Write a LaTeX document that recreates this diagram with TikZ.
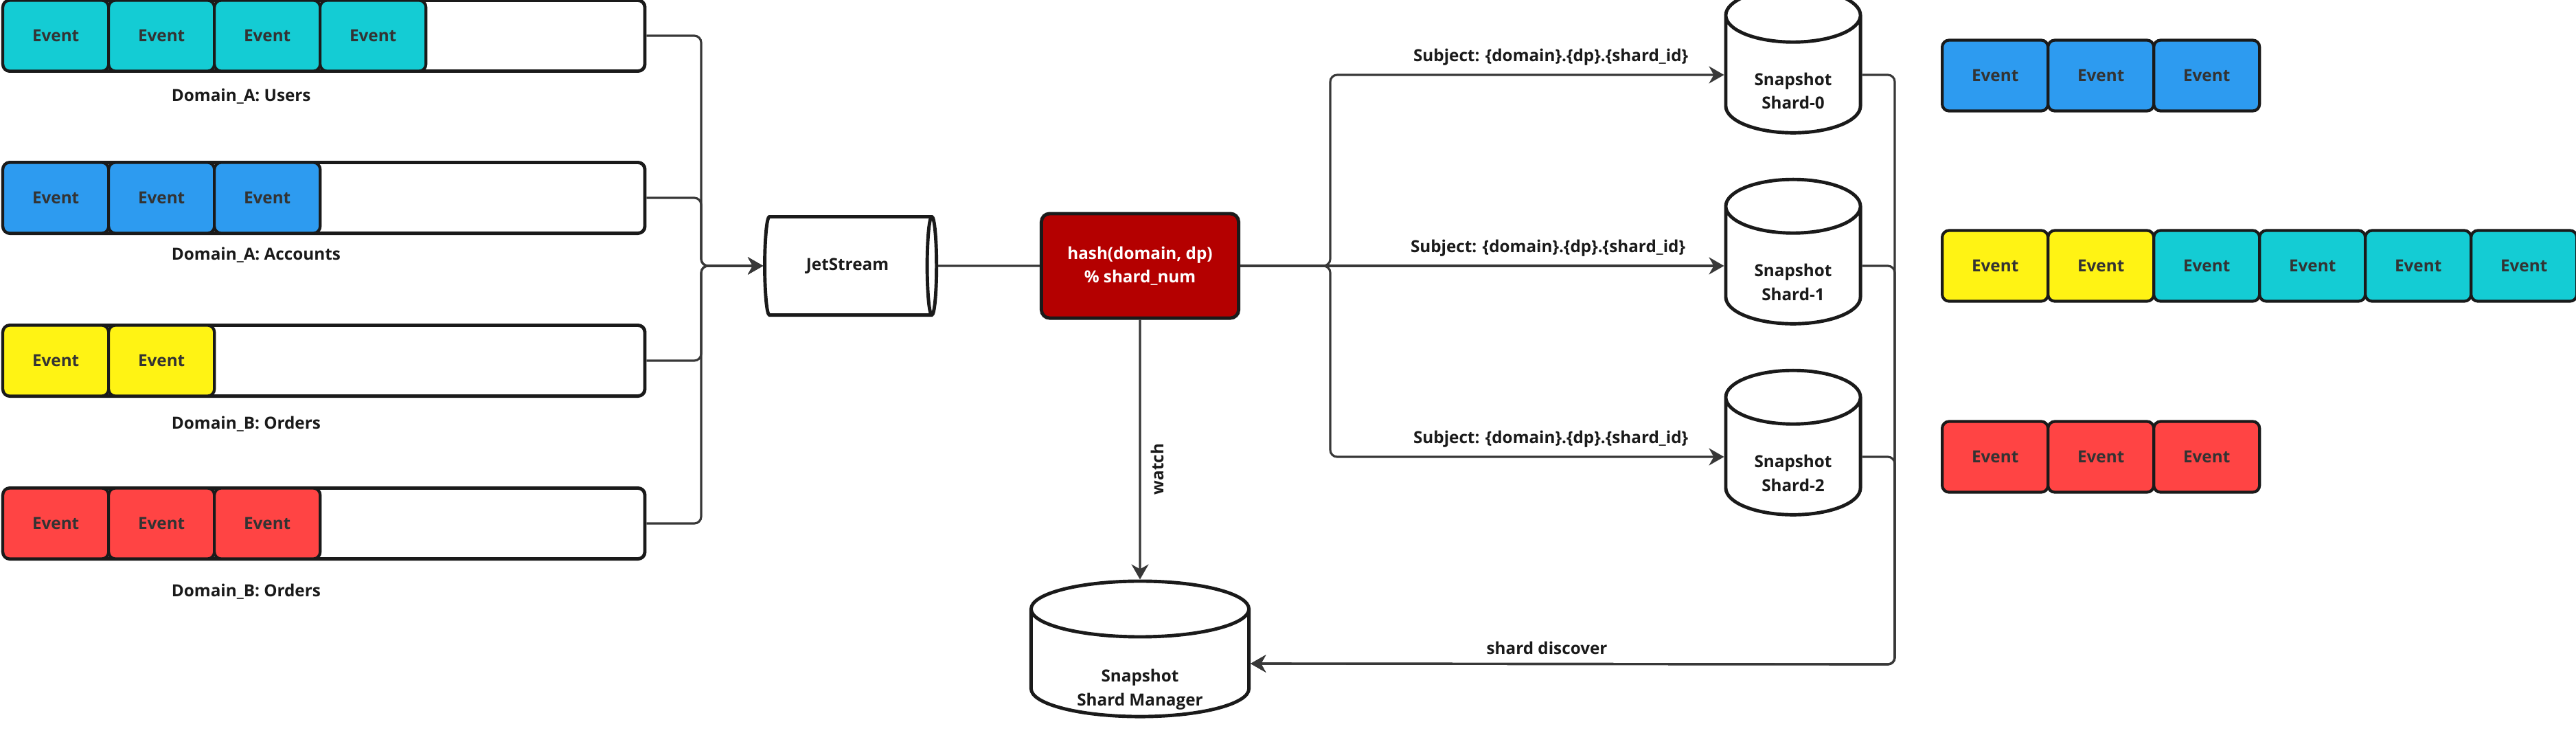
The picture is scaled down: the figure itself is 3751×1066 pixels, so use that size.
\documentclass[tikz,border=0pt]{standalone}
\usepackage{fontspec}
\setmainfont{Open Sans}
\usetikzlibrary{arrows.meta,positioning,shapes.geometric,calc}
\definecolor{evcyan}{HTML}{14CCD4}
\definecolor{evblue}{HTML}{2D9BF0}
\definecolor{evyellow}{HTML}{FFF314}
\definecolor{evred}{HTML}{FF4444}
\definecolor{hashred}{HTML}{B40000}
\definecolor{inkdark}{HTML}{1A1A1A}
\definecolor{evtext}{HTML}{333333}
\definecolor{wiregray}{HTML}{383838}
\newcommand{\dfont}{\fontsize{6.9}{9.8}\selectfont\bfseries}
% text lowered into the body of an upright cylinder (box width sets the lid depth)
\newcommand{\dbtxt}[3]{\makebox[#1]{\raisebox{#2}[0pt][0pt]{\begin{tabular}{@{}c@{}}#3\end{tabular}}}}
\tikzset{
  lbl/.style={font=\dfont,text=inkdark,inner sep=1.5pt},
  queue/.style={draw=inkdark,line width=1.4pt,rounded corners=0.1cm,minimum width=9.34cm,minimum height=1.03cm,anchor=west,inner sep=0pt},
  event/.style={draw=inkdark,line width=1.2pt,rounded corners=0.1cm,minimum width=1.54cm,minimum height=1.03cm,anchor=west,inner sep=0pt,font=\dfont,text=evtext},
  store/.style={cylinder,aspect=0.6,draw=inkdark,line width=1.4pt,fill=white,align=center,inner sep=0pt,font=\dfont,text=inkdark},
  dbv/.style={store,shape border rotate=90},
  hashbox/.style={draw=inkdark,line width=1.4pt,fill=hashred,rounded corners=0.12cm,minimum width=2.87cm,minimum height=1.52cm,align=center,font=\dfont,text=white},
  wire/.style={draw=wiregray,line width=0.9pt,rounded corners=0.1cm},
  arw/.style={wire,-{Stealth[length=2.2mm,width=2.5mm,inset=0.7mm]}},
}
\begin{document}
\begin{tikzpicture}[x=0.01cm,y=-0.01cm]
  \useasboundingbox (0,0) rectangle (3751,1066);
  % source streams
  \node[queue] (qa) at (2,52) {};
  \node[queue] (qb) at (2,288) {};
  \node[queue] (qc) at (2,525) {};
  \node[queue] (qd) at (2,762) {};
  \foreach \i in {0,...,3} \node[event,fill=evcyan] (qa\i) at (2+154*\i,52) {Event};
  \foreach \i in {0,1,2} \node[event,fill=evblue] (qb\i) at (2+154*\i,288) {Event};
  \foreach \i in {0,1} \node[event,fill=evyellow] (qc\i) at (2+154*\i,525) {Event};
  \foreach \i in {0,1,2} \node[event,fill=evred] (qd\i) at (2+154*\i,762) {Event};
  \node[lbl,anchor=west] (la) at (244,140) {Domain\_A: Users};
  \node[lbl,anchor=west] (lb) at (244,371) {Domain\_A: Accounts};
  \node[lbl,anchor=west] (lc) at (244,617) {Domain\_B: Orders};
  \node[lbl,anchor=west] (ld) at (244,861) {Domain\_B: Orders};
  % broker and router
  \node[store,minimum height=2.5cm,minimum width=1.43cm] (jet) at (1234,387) {JetStream};
  \node[hashbox] (hash) at (1660,387) {hash(domain, dp)\\\% shard\_num};
  % shards
  \node[dbv,minimum width=1.96cm,minimum height=2.10cm] (s0) at (2611,109) {\dbtxt{1.3cm}{-0.32cm}{Snapshot\\Shard-0}};
  \node[dbv,minimum width=1.96cm,minimum height=2.10cm] (s1) at (2611,387) {\dbtxt{1.3cm}{-0.32cm}{Snapshot\\Shard-1}};
  \node[dbv,minimum width=1.96cm,minimum height=2.10cm] (s2) at (2611,665) {\dbtxt{1.3cm}{-0.32cm}{Snapshot\\Shard-2}};
  \node[dbv,minimum width=3.17cm,minimum height=1.97cm] (mgr) at (1660,966) {\dbtxt{1.35cm}{-0.43cm}{Snapshot\\Shard Manager}};
  % shard contents
  \foreach \i in {0,1,2} \node[event,fill=evblue] (ra\i) at (2826+154*\i,110) {Event};
  \foreach \i in {0,1} \node[event,fill=evyellow] (rb\i) at (2826+154*\i,387) {Event};
  \foreach \i in {2,...,5} \node[event,fill=evcyan] (rb\i) at (2826+154*\i,387) {Event};
  \foreach \i in {0,1,2} \node[event,fill=evred] (rc\i) at (2826+154*\i,665) {Event};
  % junctions
  \coordinate (lbus) at (1021,387);
  \coordinate (rbus) at (1937,387);
  \coordinate (mbus) at (2759,967);
  % wires
  \foreach \q in {qa,qb,qc,qd} \draw[arw] (\q.east) -| (lbus) -- (jet.west);
  \draw[wire] (jet.east) -- (hash.west);
  \draw[arw] (hash.east) -- (rbus) |- node[lbl,above=2pt,pos=0.78] {Subject: \{domain\}.\{dp\}.\{shard\_id\}} (s0.west);
  \draw[arw] (hash.east) -- node[lbl,above=2pt,pos=0.636] {Subject: \{domain\}.\{dp\}.\{shard\_id\}} (s1.west);
  \draw[arw] (hash.east) -- (rbus) |- node[lbl,above=2pt,pos=0.78] {Subject: \{domain\}.\{dp\}.\{shard\_id\}} (s2.west);
  \draw[arw] (hash.south) -- node[lbl,rotate=90,anchor=north,pos=0.575,inner sep=4pt] {watch} (mgr.north);
  \draw[arw] (s0.east) -| (mbus) -- (mgr.east);
  \draw[arw] (s1.east) -| (mbus) -- (mgr.east);
  \draw[arw] (s2.east) -| (mbus) -- node[lbl,above=2pt,pos=0.54] {shard discover} (mgr.east);
\end{tikzpicture}
\end{document}
